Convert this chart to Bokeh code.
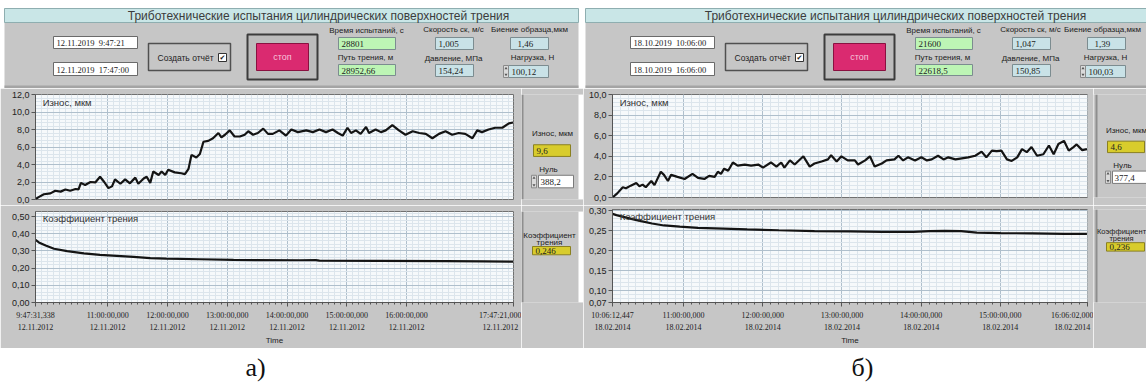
import numpy as np
from bokeh.plotting import figure
from bokeh.layouts import row, column
from bokeh.models import Range1d, FixedTicker, Label
from bokeh.core.properties import value
from bokeh.embed import file_html
from bokeh.resources import INLINE

# ---------------- data ----------------
TITLE = "Триботехнические испытания цилиндрических поверхностей трения"
FIELD_LABELS = ["Время испытаний, с", "Путь трения, м", "Скорость ск, м/с",
                "Давление, МПа", "Биение образца,мкм", "Нагрузка, Н"]
FIELDS_A = ["28801", "28952,66", "1,005", "154,24", "1,46", "100,12"]
FIELDS_B = ["21600", "22618,5", "1,047", "150,85", "1,39", "100,03"]
DATES_A = ["12.11.2019\u00a0\u00a09:47:21", "12.11.2019\u00a0\u00a017:47:00"]
DATES_B = ["18.10.2019\u00a0\u00a010:06:00", "18.10.2019\u00a0\u00a016:06:00"]
SIDE_LABELS = ["Износ, мкм", "Нуль", "Коэффициент", "трения"]
SIDE_A = ["9,6", "388,2", "0,246"]
SIDE_B = ["4,6", "377,4", "0,236"]
CAPTIONS = ["а)", "б)"]
BUTTON = "стоп"
REPORT = "Создать отчёт"
WEAR_TITLE = "Износ, мкм"
FRIC_TITLE = "Коэффициент трения"
AXIS_LABEL = "Time"

# time axis (hours of day)
START_A, END_A = 9.792038, 17.789167
START_B, END_B = 10.103458, 16.100556
TICKS_A = [9.792038, 11, 12, 13, 14, 15, 16, 17.789167]
TICK_LABELS_A = ["9:47:31,338\n12.11.2012", "11:00:00,000\n12.11.2012", "12:00:00,000\n12.11.2012",
                 "13:00:00,000\n12.11.2012", "14:00:00,000\n12.11.2012", "15:00:00,000\n12.11.2012",
                 "16:00:00,000\n12.11.2012", "17:47:21,000\n12.11.2012"]
TICKS_B = [10.103458, 11, 12, 13, 14, 15, 16.100556]
TICK_LABELS_B = ["10:06:12,447\n18.02.2014", "11:00:00,000\n18.02.2014", "12:00:00,000\n18.02.2014",
                 "13:00:00,000\n18.02.2014", "14:00:00,000\n18.02.2014", "15:00:00,000\n18.02.2014",
                 "16:06:02,000\n18.02.2014"]

WEAR_TICKS_A = [0, 2, 4, 6, 8, 10, 12]
WEAR_LABELS_A = ["0,0", "2,0", "4,0", "6,0", "8,0", "10,0", "12,0"]
FRIC_TICKS_A = [0.0, 0.1, 0.2, 0.3, 0.4, 0.5]
FRIC_LABELS_A = ["0,00", "0,10", "0,20", "0,30", "0,40", "0,50"]
WEAR_TICKS_B = [0, 2, 4, 6, 8, 10]
WEAR_LABELS_B = ["0,0", "2,0", "4,0", "6,0", "8,0", "10,0"]
FRIC_TICKS_B = [0.07, 0.10, 0.15, 0.20, 0.25, 0.30]
FRIC_LABELS_B = ["0,07", "0,10", "0,15", "0,20", "0,25", "0,30"]

# panel a: wear (hours from start, micrometres)
WEAR_T_A = [0.00, 0.06, 0.14, 0.25, 0.33, 0.42, 0.50, 0.58, 0.67, 0.72, 0.76, 0.83, 0.92, 1.00,
            1.08, 1.15, 1.22, 1.28, 1.33, 1.42, 1.50, 1.58, 1.67, 1.72, 1.81, 1.86, 1.92, 1.97,
            2.06, 2.11, 2.17, 2.22, 2.33, 2.44, 2.50, 2.56, 2.61, 2.69, 2.75, 2.81, 2.89, 2.97,
            3.06, 3.11, 3.17, 3.25, 3.33, 3.42, 3.50, 3.56, 3.64, 3.72, 3.81, 3.89, 3.97, 4.08,
            4.19, 4.28, 4.39, 4.53, 4.64, 4.75, 4.86, 4.97, 5.06, 5.14, 5.22, 5.28, 5.36, 5.44,
            5.53, 5.58, 5.69, 5.78, 5.86, 5.97, 6.08, 6.19, 6.31, 6.42, 6.53, 6.64, 6.75, 6.86,
            6.97, 7.08, 7.19, 7.31, 7.39, 7.47, 7.58, 7.69, 7.81, 7.92, 7.99]
WEAR_V_A = [0.05, 0.3, 0.6, 0.7, 1.0, 0.9, 1.15, 1.0, 1.2, 1.15, 1.9, 1.65, 2.0, 1.95,
            2.6, 2.0, 1.3, 1.5, 2.3, 1.8, 2.3, 1.85, 2.5, 1.8, 2.4, 2.6, 1.9, 3.2,
            2.8, 3.2, 2.8, 3.4, 3.1, 3.0, 2.9, 3.5, 5.1, 4.8, 5.2, 6.6, 6.7, 7.0,
            7.6, 7.1, 7.4, 7.9, 7.2, 7.2, 7.4, 7.8, 7.4, 7.6, 8.1, 7.5, 7.5, 7.9,
            7.3, 8.0, 7.7, 7.9, 7.7, 8.0, 7.7, 8.0, 7.6, 7.3, 8.2, 7.6, 7.9, 7.5,
            8.3, 7.6, 8.0, 7.7, 7.9, 8.5, 7.9, 7.4, 7.8, 7.6, 7.5, 7.0, 7.5, 7.8,
            7.4, 7.6, 7.5, 7.0, 7.9, 7.7, 8.0, 8.2, 8.2, 8.7, 8.8]

# panel a: friction coefficient
FRIC_T_A = [0.0, 0.056, 0.17, 0.31, 0.53, 0.81, 1.08, 1.36, 1.64, 1.92, 2.19, 2.75, 3.31,
            4.42, 4.69, 4.75, 5.75, 6.86, 7.5, 7.99]
FRIC_V_A = [0.365, 0.35, 0.332, 0.313, 0.299, 0.286, 0.277, 0.272, 0.266, 0.259, 0.255,
            0.252, 0.248, 0.246, 0.247, 0.244, 0.243, 0.241, 0.240, 0.238]

# panel b: wear
WEAR_T_B = [0.00, 0.06, 0.13, 0.17, 0.23, 0.30, 0.34, 0.38, 0.42, 0.49, 0.53, 0.61, 0.65, 0.70,
            0.74, 0.82, 0.91, 1.01, 1.08, 1.16, 1.22, 1.29, 1.33, 1.37, 1.41, 1.46, 1.52, 1.58,
            1.67, 1.75, 1.84, 1.90, 2.00, 2.07, 2.13, 2.17, 2.24, 2.30, 2.41, 2.49, 2.55, 2.64,
            2.72, 2.76, 2.83, 2.89, 2.97, 3.06, 3.10, 3.19, 3.25, 3.31, 3.40, 3.46, 3.56, 3.61,
            3.67, 3.73, 3.82, 3.90, 3.97, 4.03, 4.11, 4.18, 4.24, 4.33, 4.41, 4.49, 4.58, 4.66,
            4.72, 4.79, 4.85, 4.91, 4.98, 5.04, 5.11, 5.17, 5.23, 5.29, 5.36, 5.44, 5.51, 5.57,
            5.63, 5.70, 5.76, 5.82, 5.86, 5.93, 5.99]
WEAR_V_B = [0.0, 0.4, 1.0, 0.9, 1.15, 1.4, 1.1, 1.25, 1.0, 1.6, 1.2, 2.5, 2.2, 1.6,
            2.2, 2.0, 1.8, 2.3, 1.9, 1.8, 2.1, 2.0, 2.5, 2.3, 2.8, 2.6, 3.4, 3.1,
            3.2, 3.1, 3.2, 2.9, 3.4, 3.0, 3.4, 2.9, 3.6, 3.2, 4.0, 3.0, 3.3, 3.5,
            3.7, 4.1, 3.5, 4.0, 3.6, 3.6, 3.2, 3.6, 4.0, 3.0, 3.3, 3.6, 3.7, 4.05,
            3.6, 3.9, 3.6, 3.9, 3.6, 3.7, 4.05, 3.7, 3.9, 3.7, 3.8, 3.9, 4.05, 4.45,
            3.9, 4.55, 4.5, 4.55, 3.7, 3.55, 3.9, 4.7, 4.4, 4.9, 4.05, 4.2, 5.05, 4.2,
            5.2, 5.5, 4.55, 4.9, 5.15, 4.6, 4.7]

# panel b: friction coefficient
FRIC_T_B = [0.0, 0.05, 0.15, 0.25, 0.36, 0.5, 0.65, 0.85, 1.08, 1.4, 1.7, 2.1, 2.55, 3.0,
            3.4, 3.8, 4.0, 4.2, 4.4, 4.5, 4.6, 4.9, 5.3, 5.7, 5.99]
FRIC_V_B = [0.292, 0.289, 0.284, 0.279, 0.274, 0.268, 0.263, 0.26, 0.257, 0.255, 0.253,
            0.251, 0.249, 0.248, 0.247, 0.247, 0.249, 0.2495, 0.249, 0.247, 0.245, 0.244,
            0.243, 0.242, 0.242]

# ---------------- styles ----------------
GRAY = "#c6c6c6"
GREEN = "#bdf5b5"
BLUE = "#c9e2e7"
YELLOW = "#d8cc2c"
FRAME_BG = "#f6f9fb"
SANS = "Liberation Sans"
SERIF = "Liberation Serif"


def add_text(p, x, y, txt, size, font=SANS, align="left", color="#222222", baseline="middle"):
    p.text(x=[x], y=[y], text=[txt], text_font=value(font), text_font_size=value(f"{size}px"),
           text_align=align, text_baseline=baseline, text_color=color)


def add_box(p, l, r, t, b, fill, line="#7a7a7a", lw=1):
    p.quad(left=[l], right=[r], top=[t], bottom=[b], fill_color=fill, line_color=line, line_width=lw)


def spinner(p, l, r, t, b):
    add_box(p, l, r, t, b, "#dadada", line="#8a8a8a")
    cx = (l + r) / 2
    p.scatter(x=[cx, cx], y=[t + 3, b - 3], marker=["triangle", "inverted_triangle"], size=3,
              fill_color="#555555", line_color=None)


def deco_fig(w, h, bg):
    p = figure(width=w, height=h, x_range=Range1d(0, w), y_range=Range1d(h, 0),
               output_backend="svg", toolbar_location=None,
               x_axis_location=None, y_axis_location=None, min_border=0)
    p.grid.visible = False
    p.outline_line_color = None
    p.background_fill_color = bg
    p.border_fill_color = bg
    return p


def make_header(w, ox, oy, dates, fields, pl, pr, c3=0):
    p = deco_fig(w, 88, "white")
    add_box(p, pl, pr, oy, 88, GRAY, line=None)
    add_box(p, pl, pr, oy, oy + 14, "#c9e6e7", line="#8eaeb0")
    add_text(p, 310 + ox, 7.5 + oy, TITLE, 12, align="center", color="#3c3c3c")
    add_box(p, pl, pr, 85, 88, "#a4a4a4", line=None)
    for (t, b), d in zip([(28, 40), (54, 67)], dates):
        add_box(p, 45 + ox, 129 + ox, t + oy, b + oy, "white", line="#6a6a6a")
        add_text(p, 48 + ox, (t + b) / 2 + 0.5 + oy, d, 8.5, font=SERIF)
    # report box with checkbox
    add_box(p, 140 + ox, 222 + ox, 35 + oy, 62 + oy, GRAY, line="#505050", lw=1.5)
    add_text(p, 149 + ox, 49 + oy, REPORT, 8.5)
    add_box(p, 210 + ox, 218 + ox, 45 + oy, 53 + oy, "white", line="#333333")
    add_text(p, 214 + ox, 49.5 + oy, "\u2714", 7, font="DejaVu Sans", align="center", color="#222222")
    # stop button
    add_box(p, 239 + ox, 309 + ox, 26 + oy, 71 + oy, "#bcbcbc", line="#3c3c3c", lw=2)
    add_box(p, 248 + ox, 300 + ox, 35 + oy, 62 + oy, "#da2a70", line="#8a1040")
    add_text(p, 274 + ox, 48.5 + oy, BUTTON, 9, align="center", color="#f7c4da")
    # numeric fields
    lbl_pos = [(358, 22), (357, 49), (445, 21), (445, 50), (521 + c3, 21), (524 + c3, 49)]
    box_pos = [(330, 387, 29, 41), (330, 387, 56, 67), (427, 465, 29, 41),
               (427, 465, 56, 68), (502, 540, 29, 41), (500, 540, 57, 69)]
    txt_x = [333, 333, 430, 430, 509, 503]
    fills = [GREEN, GREEN, BLUE, BLUE, BLUE, BLUE]
    for lab, (lx, ly), (l, r, t, b), tx, f, v in zip(FIELD_LABELS, lbl_pos, box_pos, txt_x, fills, fields):
        add_text(p, lx + ox, ly + oy, lab, 8, align="center")
        add_box(p, l + ox, r + ox, t + oy, b + oy, f, line="#7c8c90")
        add_text(p, tx + ox, (t + b) / 2 + 0.5 + oy, v, 9, font=SERIF)
    spinner(p, 495 + ox, 500 + ox, 57 + oy, 69 + oy)
    return p


def make_side_wear(w, h, dx, dy, vals, white_from, dark_x):
    p = deco_fig(w, h, GRAY)
    if white_from is not None:
        add_box(p, white_from, w, 0, h, "white", line=None)
    add_box(p, dark_x, dark_x + 2, 0, h, "#8e8e8e", line=None)
    add_text(p, 31 + dx, 44 + dy, SIDE_LABELS[0], 8, align="center")
    add_box(p, 12 + dx, 49 + dx, 56 + dy, 69 + dy, YELLOW, line="#8a8020")
    add_text(p, 15 + dx, 63 + dy, vals[0], 9, font=SERIF)
    add_text(p, 27 + dx, 84 + dy, SIDE_LABELS[1], 8, align="center")
    add_box(p, 17 + dx, 52 + dx, 90 + dy, 104 + dy, "white", line="#7a7a7a")
    add_text(p, 19 + dx, 97.5 + dy, vals[1], 9, font=SERIF)
    spinner(p, 10 + dx, 15 + dx, 90 + dy, 104 + dy)
    return p


def make_side_fric(w, h, dx, dy, vals, white_from, dark_x, lx=28, fs=8):
    p = deco_fig(w, h, GRAY)
    if white_from is not None:
        add_box(p, white_from, w, 0, h, "white", line=None)
    add_box(p, dark_x, dark_x + 2, 0, h, "#8e8e8e", line=None)
    add_text(p, lx, 38 + dy, SIDE_LABELS[2], fs, align="center")
    add_text(p, lx, 48 + dy, SIDE_LABELS[3], fs, align="center")
    add_box(p, 11 + dx, 49 + dx, 55 + dy, 68 + dy, YELLOW, line="#8a8020")
    add_text(p, 14 + dx, 62 + dy, vals[2], 9, font=SERIF)
    return p


def make_chart(w, h, ml, mr, mt, mb, xr, yr, xt, xlabels, yt, ylabels, yminor_step,
               xs, ys, title, show_x):
    p = figure(width=w, height=h, x_range=Range1d(*xr), y_range=Range1d(*yr),
               output_backend="svg", toolbar_location=None,
               min_border_left=ml, min_border_right=mr, min_border_top=mt, min_border_bottom=mb,
               x_axis_location="below" if show_x else None)
    p.background_fill_color = FRAME_BG
    p.border_fill_color = GRAY
    p.outline_line_color = "#707070"
    xminor = list(np.arange(np.ceil(xr[0] * 10) / 10, xr[1], 0.1))
    yminor = list(np.arange(yr[0], yr[1] + 1e-9, yminor_step))
    xtick = FixedTicker(ticks=xt, minor_ticks=xminor)
    ytick = FixedTicker(ticks=yt, minor_ticks=yminor)
    p.xgrid.ticker = xtick
    p.ygrid.ticker = ytick
    for g in (p.xgrid, p.ygrid):
        g.grid_line_color = "#afbfcc"
        g.grid_line_width = 1
        g.minor_grid_line_color = "#dce5ec"
    ax = p.yaxis[0]
    ax.ticker = ytick
    ax.major_label_overrides = dict(zip(yt, ylabels))
    ax.minor_tick_line_color = None
    ax.major_tick_in = 0
    ax.major_tick_out = 4
    ax.major_label_standoff = 2
    ax.major_label_text_font = SANS
    ax.major_label_text_font_size = "9px"
    ax.major_label_text_color = "#222222"
    ax.axis_line_color = "#555555"
    ax.major_tick_line_color = "#555555"
    if show_x:
        xa = p.xaxis[0]
        xa.ticker = xtick
        xa.major_label_overrides = dict(zip(xt, xlabels))
        xa.major_tick_in = 0
        xa.major_tick_out = 4
        xa.minor_tick_in = 0
        xa.minor_tick_out = 2
        xa.major_label_standoff = 4
        xa.major_label_text_font = SERIF
        xa.major_label_text_font_size = "8px"
        xa.major_label_text_line_height = 1.4
        xa.major_label_text_color = "#222222"
        xa.axis_label = AXIS_LABEL
        xa.axis_label_text_font = SANS
        xa.axis_label_text_font_size = "8px"
        xa.axis_label_text_font_style = "normal"
        xa.axis_label_text_color = "#222222"
        xa.axis_label_standoff = 1
        xa.axis_line_color = "#555555"
        xa.major_tick_line_color = "#555555"
        xa.minor_tick_line_color = "#555555"
    p.line(xs, ys, line_color="#141414", line_width=2.2)
    p.add_layout(Label(x=xr[0] + (xr[1] - xr[0]) * 0.015, y=yr[1] - (yr[1] - yr[0]) * 0.02,
                       text=title, text_font=SANS, text_font_size="9.5px",
                       text_color="#333333", text_baseline="top"))
    return p


# ---------------- panel a ----------------
xa_vals = [START_A + t for t in WEAR_T_A]
xfa_vals = [START_A + t for t in FRIC_T_A]
head_a = make_header(583, 8, 8, DATES_A, FIELDS_A, 4, 578)
wear_a = make_chart(521, 117, 35, 8, 6, 6, (START_A, END_A), (0, 12), TICKS_A, TICK_LABELS_A,
                    WEAR_TICKS_A, WEAR_LABELS_A, 0.4, xa_vals, WEAR_V_A, WEAR_TITLE, False)
fric_a = make_chart(521, 143, 35, 8, 6, 41, (START_A, END_A), (0, 0.53), TICKS_A, TICK_LABELS_A,
                    FRIC_TICKS_A, FRIC_LABELS_A, 0.02, xfa_vals, FRIC_V_A, FRIC_TITLE, True)
side_wa = make_side_wear(62, 117, 0, 0, SIDE_A, 57, 0)
side_fa = make_side_fric(62, 143, 0, 0, SIDE_A, 57, 0, lx=28, fs=8)
cap_a = deco_fig(583, 38, "white")
add_text(cap_a, 255, 19, CAPTIONS[0], 26, font=SERIF, align="center", color="#111111", baseline="middle")

# ---------------- panel b ----------------
xb_vals = [START_B + t for t in WEAR_T_B]
xfb_vals = [START_B + t for t in FRIC_T_B]
head_b = make_header(563, 2, 8, DATES_B, FIELDS_B, 2, 566, c3=-4)
wear_b = make_chart(510, 117, 29, 6, 6, 8, (START_B, END_B), (0, 10), TICKS_B, TICK_LABELS_B,
                    WEAR_TICKS_B, WEAR_LABELS_B, 0.4, xb_vals, WEAR_V_B, WEAR_TITLE, False)
fric_b = make_chart(510, 143, 29, 6, 4, 40, (START_B, END_B), (0.07, 0.303), TICKS_B, TICK_LABELS_B,
                    FRIC_TICKS_B, FRIC_LABELS_B, 0.01, xfb_vals, FRIC_V_B, FRIC_TITLE, True)
side_wb = make_side_wear(53, 117, 2, -3, SIDE_B, None, 2)
side_fb = make_side_fric(53, 143, 2, -4, SIDE_B, None, 2, lx=28, fs=7.5)
cap_b = deco_fig(563, 38, "white")
add_text(cap_b, 279, 19, CAPTIONS[1], 26, font=SERIF, align="center", color="#111111", baseline="middle")

col_a = column(head_a, row(wear_a, side_wa), row(fric_a, side_fa), cap_a)
col_b = column(head_b, row(wear_b, side_wb), row(fric_b, side_fb), cap_b)
layout = row(col_a, col_b)

open("out.html", "w").write(file_html(layout, INLINE))
